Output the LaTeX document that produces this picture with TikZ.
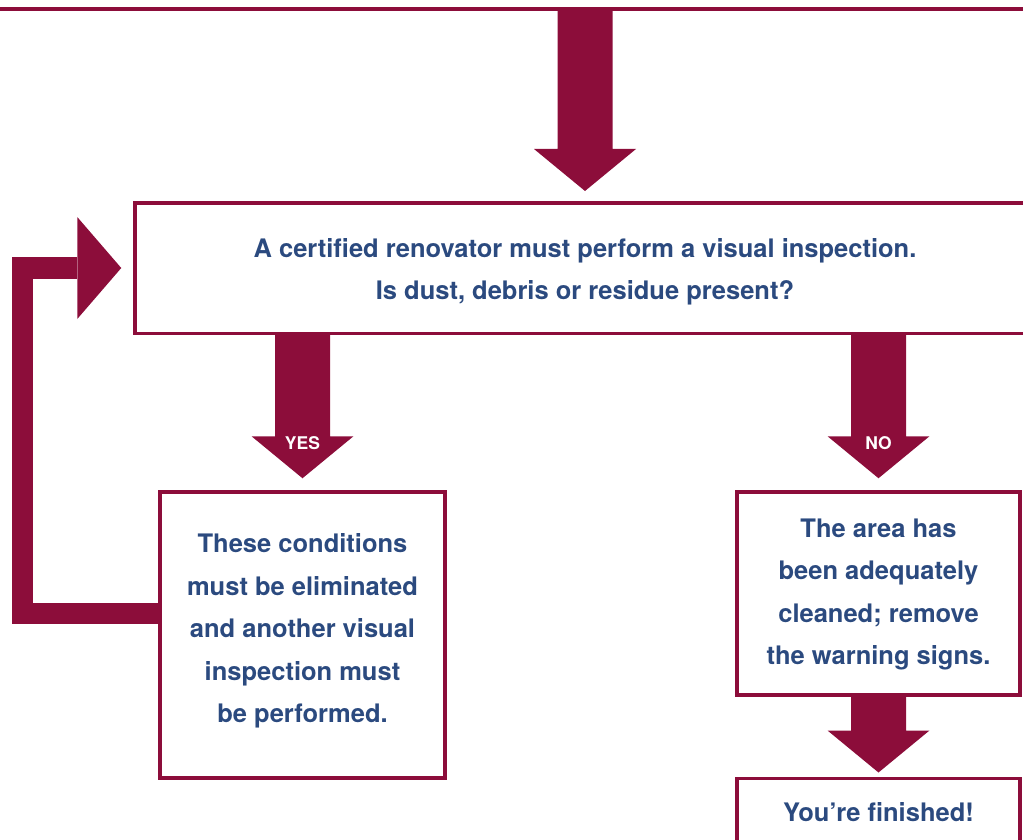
\documentclass[tikz,border=0pt]{standalone}
\usepackage{fontspec}
\setmainfont{TeX Gyre Heros}
\usetikzlibrary{calc}
\definecolor{maroon}{HTML}{8C0D3A}
\definecolor{navy}{HTML}{2B4A7F}
\tikzset{
  box/.style={draw=maroon, line width=3.5pt, fill=white, inner sep=0pt},
  txt/.style={text=navy, font=\bfseries\fontsize{25.5}{42.5}\selectfont, align=center, inner sep=0pt},
  lbl/.style={text=white, font=\bfseries\fontsize{17.5}{17.5}\selectfont, inner sep=0pt},
  loopline/.style={draw=maroon, line width=21.5pt, line join=miter},
}
\newcommand\blockdown[3]{%
  \fill[maroon] let \p1=(#1), \p2=(#2) in
    (\x1-27.5pt,\y1) -- (\x1+27.5pt,\y1) -- (\x1+27.5pt,\y2+#3pt+42pt) --
    (\x1+51pt,\y2+#3pt+42pt) -- (\x1,\y2+#3pt) -- (\x1-51pt,\y2+#3pt+42pt) --
    (\x1-27.5pt,\y2+#3pt+42pt) -- cycle;}
\begin{document}
\begin{tikzpicture}[x=1pt,y=-1pt]
\useasboundingbox (0,0) rectangle (1023,840);
\clip (0,0) rectangle (1023,840);
% boxes
\node[box, minimum width=1063, minimum height=200, anchor=south] (prev) at (511.5,11) {};
\node[box, minimum width=900, minimum height=130.5] (inspect) at (585,268) {};
\node[txt] (inspecttxt) at (585,272) {A certified renovator must perform a visual inspection.\\Is dust, debris or residue present?};
\node[box, minimum width=285, minimum height=286] (yes) at (302.5,635) {};
\node[txt] (yestxt) at (302.5,631) {These conditions\\must be eliminated\\and another visual\\inspection must\\be performed.};
\node[box, minimum width=283, minimum height=203] (no) at (878.5,593.5) {};
\node[txt] (notxt) at (878.5,594.5) {The area has\\been adequately\\cleaned; remove\\the warning signs.};
\node[box, minimum width=283, minimum height=100, anchor=north] (done) at (878.5,776.5) {};
\node[txt] (donetxt) at (878.5,812) {You’re finished!};
% block arrows
\blockdown{prev.south -| inspect.north}{inspect.north}{10}
\blockdown{inspect.south -| yes.north}{yes.north}{12}
\blockdown{inspect.south -| no.north}{no.north}{12}
\blockdown{no.south}{done.north}{4}
\node[lbl] (yeslbl) at ($(yes.north)+(0,-47)$) {YES};
\node[lbl] (nolbl) at ($(no.north)+(0,-47)$) {NO};
% loop back
\draw[loopline] ([yshift=21.5pt]yes.west) -- ++(-136,0) |- ([xshift=-56pt]inspect.west);
\fill[maroon] ([xshift=-56pt,yshift=51pt]inspect.west) -- ([xshift=-12pt]inspect.west) -- ([xshift=-56pt,yshift=-51pt]inspect.west) -- cycle;
\end{tikzpicture}
\end{document}
